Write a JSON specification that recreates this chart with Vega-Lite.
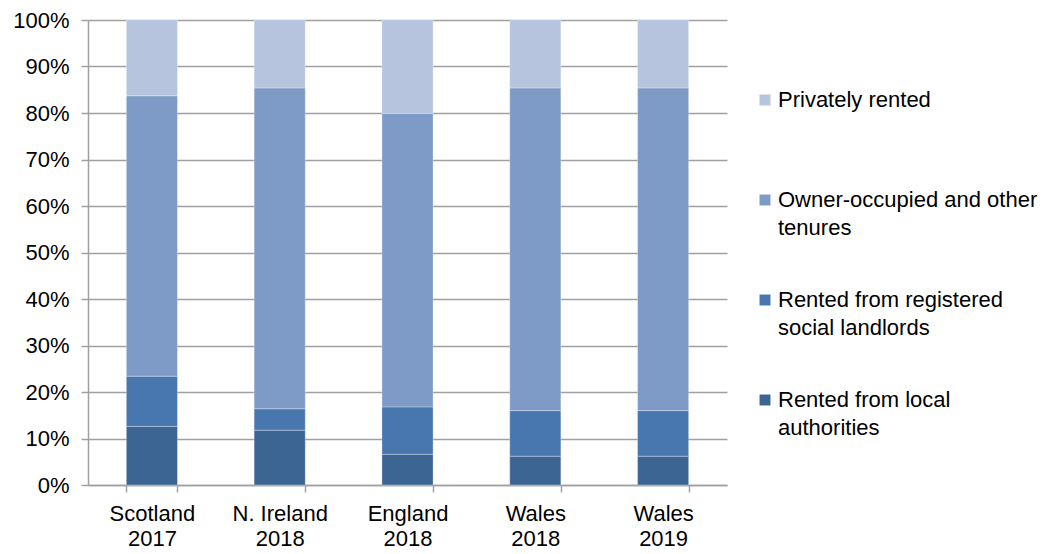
{
  "$schema": "https://vega.github.io/schema/vega-lite/v6.json",
  "width": 639,
  "height": 465,
  "autosize": "none",
  "padding": {"left": 88, "top": 20, "right": 334, "bottom": 69},
  "background": "white",
  "config": {
    "font": "Liberation Sans",
    "view": {"stroke": null},
    "style": {"guide-label": {"lineHeight": 28}}
  },
  "data": {
    "values": [
      {"group": "Scotland 2017", "tenure": "Rented from local authorities", "k": 1, "value": 0.126},
      {"group": "Scotland 2017", "tenure": "Rented from registered social landlords", "k": 2, "value": 0.108},
      {"group": "Scotland 2017", "tenure": "Owner-occupied and other tenures", "k": 3, "value": 0.603},
      {"group": "Scotland 2017", "tenure": "Privately rented", "k": 4, "value": 0.163},
      {"group": "N. Ireland 2018", "tenure": "Rented from local authorities", "k": 1, "value": 0.118},
      {"group": "N. Ireland 2018", "tenure": "Rented from registered social landlords", "k": 2, "value": 0.046},
      {"group": "N. Ireland 2018", "tenure": "Owner-occupied and other tenures", "k": 3, "value": 0.690},
      {"group": "N. Ireland 2018", "tenure": "Privately rented", "k": 4, "value": 0.146},
      {"group": "England 2018", "tenure": "Rented from local authorities", "k": 1, "value": 0.066},
      {"group": "England 2018", "tenure": "Rented from registered social landlords", "k": 2, "value": 0.102},
      {"group": "England 2018", "tenure": "Owner-occupied and other tenures", "k": 3, "value": 0.631},
      {"group": "England 2018", "tenure": "Privately rented", "k": 4, "value": 0.201},
      {"group": "Wales 2018", "tenure": "Rented from local authorities", "k": 1, "value": 0.062},
      {"group": "Wales 2018", "tenure": "Rented from registered social landlords", "k": 2, "value": 0.098},
      {"group": "Wales 2018", "tenure": "Owner-occupied and other tenures", "k": 3, "value": 0.694},
      {"group": "Wales 2018", "tenure": "Privately rented", "k": 4, "value": 0.146},
      {"group": "Wales 2019", "tenure": "Rented from local authorities", "k": 1, "value": 0.062},
      {"group": "Wales 2019", "tenure": "Rented from registered social landlords", "k": 2, "value": 0.098},
      {"group": "Wales 2019", "tenure": "Owner-occupied and other tenures", "k": 3, "value": 0.694},
      {"group": "Wales 2019", "tenure": "Privately rented", "k": 4, "value": 0.146}
    ]
  },
  "mark": {"type": "bar", "stroke": "white", "strokeWidth": 0.6, "strokeOpacity": 0.5},
  "encoding": {
    "x": {
      "field": "group",
      "type": "nominal",
      "sort": null,
      "scale": {"paddingInner": 0.6, "paddingOuter": 0.3},
      "axis": {
        "title": null,
        "labelAngle": 0,
        "labelExpr": "[slice(datum.label, 0, -5), slice(datum.label, -4)]",
        "labelFontSize": 22,
        "labelColor": "#000000",
        "labelPadding": 11,
        "labelLineHeight": 25,
        "tickBand": "extent",
        "tickSize": 7,
        "tickColor": "#a0a0a0",
        "tickWidth": 1.5,
        "domainColor": "#a0a0a0",
        "domainWidth": 1.5,
        "grid": false
      }
    },
    "y": {
      "field": "value",
      "type": "quantitative",
      "stack": "zero",
      "scale": {"domain": [0, 1], "nice": false},
      "axis": {
        "title": null,
        "format": ".0%",
        "values": [0, 0.1, 0.2, 0.3, 0.4, 0.5, 0.6, 0.7, 0.8, 0.9, 1],
        "labelFontSize": 22,
        "labelColor": "#000000",
        "labelPadding": 12,
        "tickSize": 7,
        "tickColor": "#a0a0a0",
        "tickWidth": 1.5,
        "domainColor": "#a0a0a0",
        "domainWidth": 1.5,
        "grid": true,
        "gridColor": "#a0a0a0",
        "gridWidth": 1.5
      }
    },
    "color": {
      "field": "tenure",
      "type": "nominal",
      "scale": {
        "domain": ["Privately rented", "Owner-occupied and other tenures", "Rented from registered social landlords", "Rented from local authorities"],
        "range": ["#b6c4de", "#7e9bc7", "#4877b0", "#3c6594"]
      },
      "legend": {
        "title": null,
        "orient": "none",
        "legendX": 666,
        "legendY": 69,
        "symbolType": "square",
        "symbolSize": 120,
        "symbolStrokeWidth": 0,
        "labelFontSize": 22,
        "labelColor": "#000000",
        "labelLimit": 400,
        "labelOffset": 2,
        "labelBaseline": "middle",
        "rowPadding": 50,
        "labelExpr": "datum.label == 'Owner-occupied and other tenures' ? ['Owner-occupied and other', 'tenures'] : datum.label == 'Rented from registered social landlords' ? ['Rented from registered', 'social landlords'] : datum.label == 'Rented from local authorities' ? ['Rented from local', 'authorities'] : [datum.label, ' ']"
      }
    },
    "order": {"field": "k", "type": "quantitative", "sort": "ascending"}
  }
}
